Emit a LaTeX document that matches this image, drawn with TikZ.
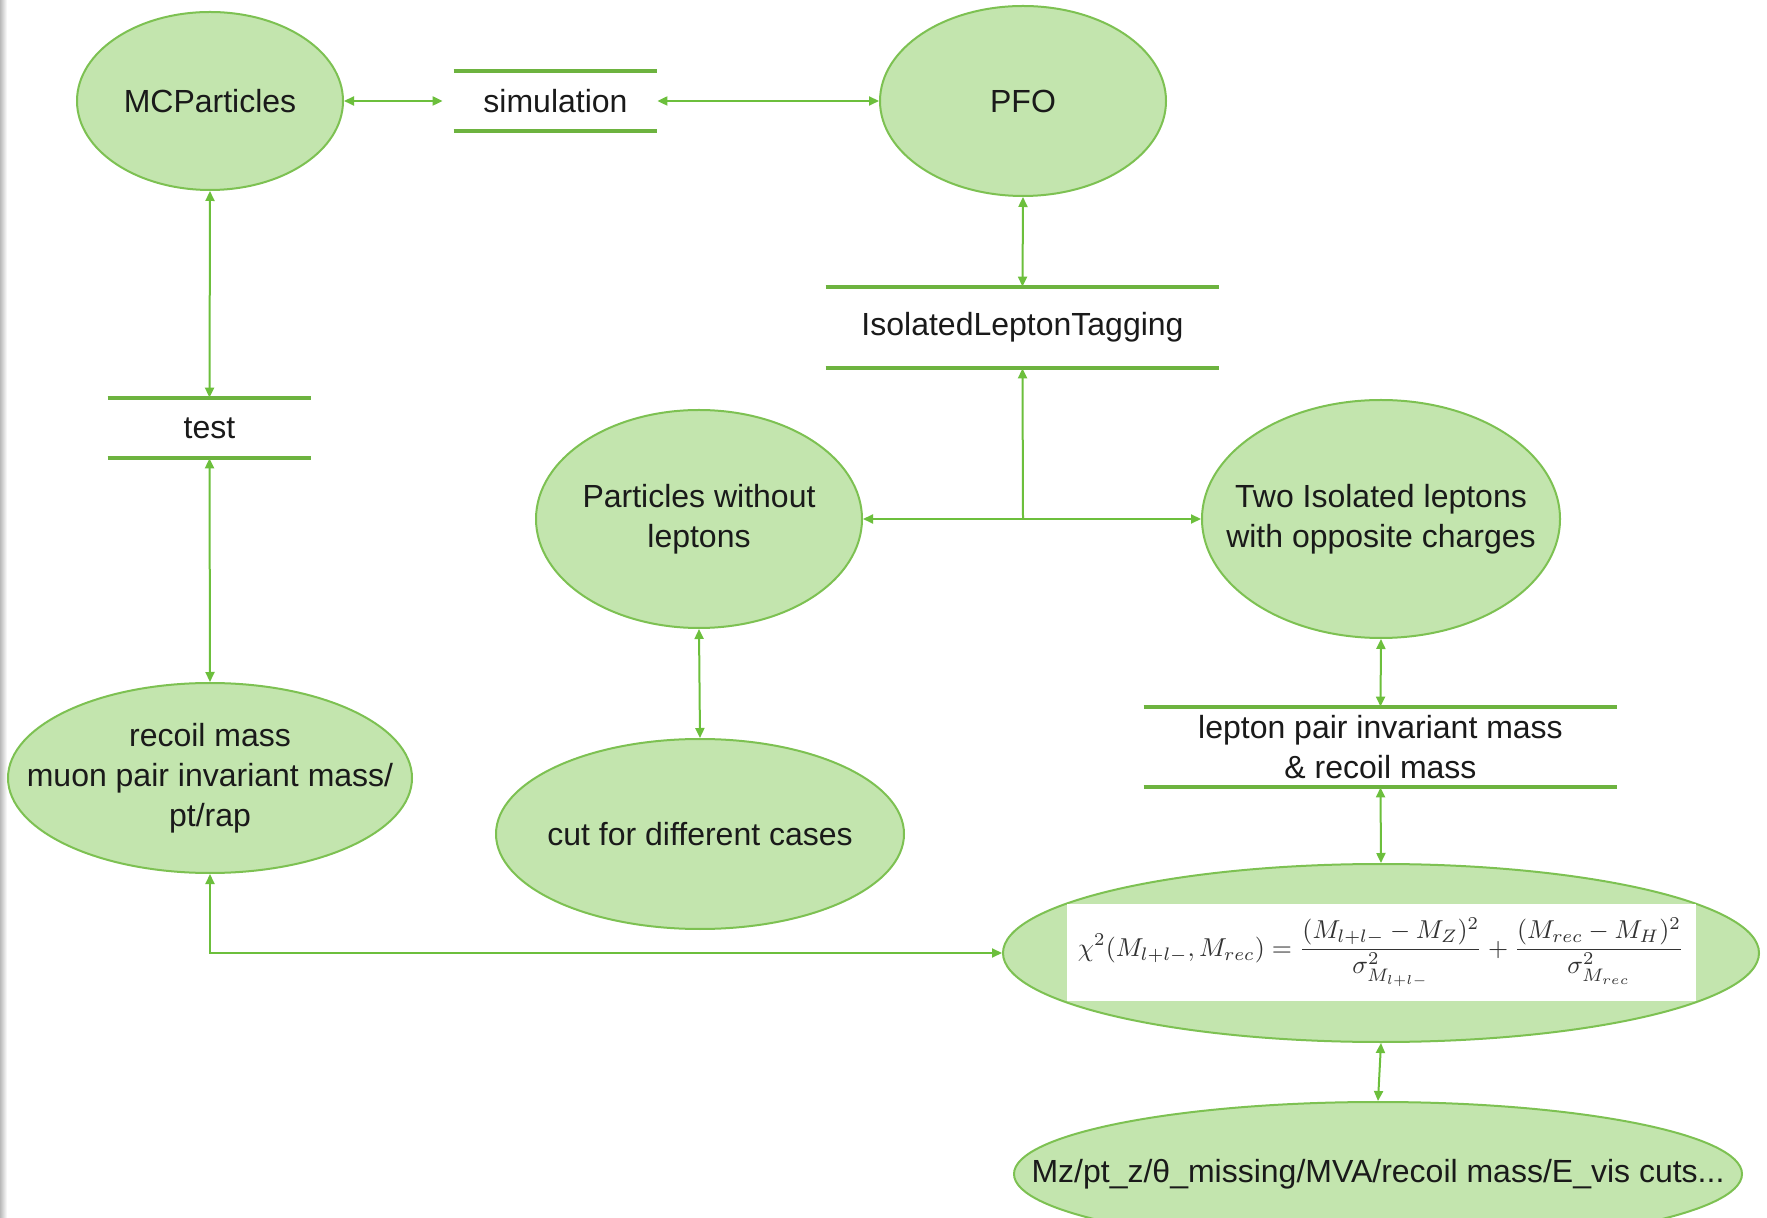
\documentclass[tikz,border=0pt]{standalone}
\usepackage{fontspec}
\setmainfont{Liberation Sans}
\usepackage{graphicx}
\usetikzlibrary{shapes.geometric,arrows.meta}
\definecolor{fillg}{HTML}{C3E5AE}
\definecolor{edgeg}{HTML}{7DC152}
\definecolor{arrg}{HTML}{6CBF3C}
\definecolor{storeg}{HTML}{6DB33F}
\definecolor{txtc}{HTML}{1A1A1A}
\begin{document}
\begin{tikzpicture}[x=0.5pt,y=-0.5pt,
  ell/.style={ellipse,draw=edgeg,fill=fillg,line width=1pt,inner sep=0pt},
  txt/.style={font=\fontsize{16}{20}\selectfont,text=txtc,align=center,inner sep=0pt},
  store/.style={rectangle,inner sep=0pt,font=\fontsize{16}{20}\selectfont,text=txtc},
  storeline/.style={draw=storeg,line width=2pt},
  conn/.style={draw=arrg,line width=1pt,{Triangle[length=5pt,width=4.5pt]}-{Triangle[length=5pt,width=4.5pt]}},
  oneway/.style={draw=arrg,line width=1pt,-{Triangle[length=5pt,width=4.5pt]}}
]
\useasboundingbox (0,0) rectangle (1767,1218);
\clip (0,0) rectangle (1767,1218);
\fill[white] (0,0) rectangle (1767,1218);
\fill[left color=gray!55,right color=white] (0,0) rectangle (7,1218);

% ellipses
\node[ell,minimum width=133pt,minimum height=89pt,label={[txt]center:MCParticles}] (mc) at (210,101) {};
\node[ell,minimum width=143pt,minimum height=95pt,label={[txt]center:PFO}] (pfo) at (1023,101) {};
\node[ell,minimum width=163pt,minimum height=109pt,label={[txt]center:Particles without\\leptons}] (pwl) at (699,519) {};
\node[ell,minimum width=179pt,minimum height=119pt,label={[txt]center:Two Isolated leptons\\with opposite charges}] (two) at (1381,519) {};
\node[ell,minimum width=202pt,minimum height=95pt,label={[txt]center:recoil mass\\muon pair invariant mass/\\pt/rap}] (rec) at (210,778) {};
\node[ell,minimum width=204pt,minimum height=95pt,label={[txt]center:cut for different cases}] (cut) at (700,834) {};
\node[ell,minimum width=378pt,minimum height=89pt] (chi) at (1381,953) {};
\node[fill=white,minimum width=314.5pt,minimum height=48.5pt,inner sep=0pt,text=black!80] (formula) at (1381,952)
  {\resizebox{303pt}{!}{$\displaystyle \chi^2(M_{l+l-},M_{rec})=\frac{(M_{l+l-}-M_Z)^2}{\sigma^2_{M_{l+l-}}}+\frac{(M_{rec}-M_H)^2}{\sigma^2_{M_{rec}}}$}};
\node[ell,minimum width=364pt,minimum height=72pt,label={[txt]center:Mz/pt\_z/θ\_missing/MVA/recoil mass/E\_vis cuts...}] (bot) at (1378,1174) {};

% data stores
\node[store,minimum width=101.5pt,minimum height=29.5pt] (sim) at (555.5,101) {simulation};
\node[store,minimum width=196.5pt,minimum height=40.5pt] (itag) at (1022.5,327.5) {IsolatedLeptonTagging};
\node[store,minimum width=101.5pt,minimum height=30pt] (test) at (209.5,428) {test};
\node[store,minimum width=236.5pt,minimum height=40pt,align=center,font=\fontsize{16}{20}\selectfont] (lp) at (1380.5,747) {lepton pair invariant mass\\\& recoil mass};
\foreach \s in {sim,itag,test,lp}{
  \draw[storeline] (\s.north west) -- (\s.north east) (\s.south west) -- (\s.south east);
}

% connectors
\draw[conn] (mc.east) -- ([xshift=-5.5pt]sim.west);
\draw[conn] (sim.east) -- (pfo.west);
\draw[conn] (pfo.south) -- (itag.north);
\draw[conn] (mc.south) -- (test.north);
\draw[conn] (test.south) -- (rec.north);
\coordinate (j) at (1023,519);
\draw[oneway] (j) -- (itag.south);
\draw[oneway] (j) -- (pwl.east);
\draw[oneway] (j) -- (two.west);
\draw[conn] (pwl.south) -- (cut.north);
\draw[conn] (two.south) -- (lp.north);
\draw[conn] (lp.south) -- (chi.north);
\draw[conn] (rec.south) |- (chi.west);
\draw[conn] (chi.south) -- (bot.north);
\end{tikzpicture}
\end{document}
